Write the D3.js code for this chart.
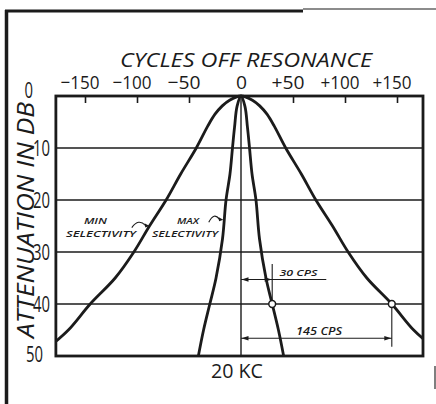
<!DOCTYPE html>
<html>
<head>
<meta charset="utf-8">
<script src="https://cdn.jsdelivr.net/npm/d3@7"></script>
<style>
  html, body { margin: 0; padding: 0; background: #fff; }
  svg { display: block; }
  text { font-family: "Open Sans", "DejaVu Sans", sans-serif; fill: #1b1b1b; }
</style>
</head>
<body>
<svg id="chart" width="436" height="404"></svg>
<script>
// Frequency axis (cycles off resonance) and attenuation axis (dB)
const xTicks = [-150, -100, -50, 0, 50, 100, 150];
const yTicks = [0, 10, 20, 30, 40, 50];
const xExtent = [-178, 175];

// Minimum-selectivity response: attenuation (dB) vs cycles off resonance (one side, symmetric)
const minSelDb     = [0, 0.8, 1.9, 3.5, 5.8, 10, 15, 20, 25, 30, 35, 40, 45, 48];
const minSelCycles = [0, 11, 18, 25, 32, 43, 58, 72, 88, 103, 121, 145, 166, 183];

// Maximum-selectivity response
const maxSelDb     = [0, 2, 6, 10, 15, 20, 27.5, 35, 40, 45, 50];
const maxSelCycles = [0, 3.8, 6.2, 8.2, 10.6, 14.4, 17.8, 24, 30, 36, 41];

// Bandwidths marked at the 40 dB level
const bandLevelDb = 40;
const bandCps = [30, 145];
const bandLabels = ["30 CPS", "145 CPS"];

const svg = d3.select("#chart");
const ink = "#1b1b1b";

const x = d3.scaleLinear().domain([-150, 150]).range([85, 397]);
const y = d3.scaleLinear().domain([0, 50]).range([96, 356]);
const plotL = x(xExtent[0]), plotR = x(xExtent[1]);
const plotT = y(0), plotB = y(50);

// Outer frame of the figure
svg.append("line").attr("x1", 5).attr("y1", 11).attr("x2", 303).attr("y2", 11)
  .attr("stroke", ink).attr("stroke-width", 3);
svg.append("line").attr("x1", 303).attr("y1", 9).attr("x2", 436).attr("y2", 9)
  .attr("stroke", "#666").attr("stroke-width", 1.5);
svg.append("line").attr("x1", 6.5).attr("y1", 10).attr("x2", 6.5).attr("y2", 404)
  .attr("stroke", ink).attr("stroke-width", 3.5);
svg.append("line").attr("x1", 435).attr("y1", 366).attr("x2", 435).attr("y2", 389)
  .attr("stroke", "#555").attr("stroke-width", 1.5);

// Horizontal grid lines
svg.append("g").selectAll("line")
  .data(yTicks.filter(v => v > 0 && v < 50))
  .join("line")
  .attr("x1", plotL).attr("x2", plotR)
  .attr("y1", d => y(d)).attr("y2", d => y(d))
  .attr("stroke", ink).attr("stroke-width", 1.4);

// Resonance (20 KC) centre line
svg.append("line")
  .attr("x1", x(0)).attr("x2", x(0)).attr("y1", plotT).attr("y2", plotB)
  .attr("stroke", ink).attr("stroke-width", 1.4);

// Top axis with inward ticks
const fmt = v => v === 0 ? "0" : (v < 0 ? "\u2212" : "+") + Math.abs(v);
const digitW = s => s.split("").reduce((a, c) => a + (c === "1" ? 6 : 11), 0);
const xAxis = svg.append("g")
  .attr("transform", `translate(0,${plotT})`)
  .call(d3.axisTop(x).tickValues(xTicks).tickSizeInner(-7).tickSizeOuter(0)
    .tickPadding(7).tickFormat(fmt));
xAxis.select(".domain").remove();
xAxis.selectAll(".tick line").attr("stroke", ink).attr("stroke-width", 1.6)
  .attr("display", d => d === 0 ? "none" : null);
xAxis.selectAll(".tick text")
  .attr("fill", ink).attr("font-size", 18.5).attr("font-weight", 400)
  .attr("font-family", '"Open Sans", "DejaVu Sans", sans-serif')
  .each(function (d) {
    const digits = String(Math.abs(d));
    const w = digitW(digits);
    const t = d3.select(this);
    if (d === 0) {
      t.attr("text-anchor", "middle").attr("textLength", w).attr("lengthAdjust", "spacingAndGlyphs");
    } else {
      t.attr("text-anchor", "end").attr("x", w / 2)
        .attr("textLength", w + 11).attr("lengthAdjust", "spacingAndGlyphs");
    }
  });

// Left axis labels
svg.append("g").selectAll("text")
  .data(yTicks)
  .join("text")
  .attr("text-anchor", "end")
  .attr("font-size", 22).attr("font-weight", 400)
  .attr("x", d => d === 0 ? 33 : d === 50 ? 43 : 50)
  .attr("y", d => y(d) + (d === 0 ? 2 : d === 50 ? 6 : 8))
  .attr("textLength", d => String(d).length * 8.5)
  .attr("lengthAdjust", "spacingAndGlyphs")
  .text(d => d);

// Axis titles
svg.append("text")
  .attr("x", 120).attr("y", 67)
  .attr("font-size", 20).attr("font-style", "italic").attr("font-weight", 400)
  .attr("textLength", 252).attr("lengthAdjust", "spacingAndGlyphs")
  .text("CYCLES OFF RESONANCE");
svg.append("text")
  .attr("transform", "translate(34,220) rotate(-90)")
  .attr("text-anchor", "middle")
  .attr("font-size", 23).attr("font-style", "italic").attr("font-weight", 400)
  .attr("textLength", 236).attr("lengthAdjust", "spacingAndGlyphs")
  .text("ATTENUATION IN DB");
svg.append("text")
  .attr("x", x(0) - 4).attr("y", 378)
  .attr("text-anchor", "middle")
  .attr("font-size", 20).attr("font-weight", 400)
  .attr("textLength", 52).attr("lengthAdjust", "spacingAndGlyphs")
  .text("20 KC");

// Response curves, mirrored about resonance
svg.append("defs").append("clipPath").attr("id", "plotClip")
  .append("rect").attr("x", plotL).attr("y", plotT - 2)
  .attr("width", plotR - plotL).attr("height", plotB - plotT + 2);

function symmetric(cyc, db) {
  const pts = cyc.map((c, i) => [c, db[i]]);
  const leftSide = pts.slice(1).reverse().map(([c, d]) => [-c, d]);
  return leftSide.concat(pts);
}
const line = d3.line().x(d => x(d[0])).y(d => y(d[1])).curve(d3.curveCatmullRom.alpha(0.5));

const curves = svg.append("g").attr("clip-path", "url(#plotClip)");
curves.append("path").datum(symmetric(minSelCycles, minSelDb))
  .attr("d", line).attr("fill", "none").attr("stroke", ink).attr("stroke-width", 2.8)
  .attr("stroke-linejoin", "round");
curves.append("path").datum(symmetric(maxSelCycles, maxSelDb))
  .attr("d", line).attr("fill", "none").attr("stroke", ink).attr("stroke-width", 2.8)
  .attr("stroke-linejoin", "round");

// Plot border
svg.append("rect")
  .attr("x", plotL).attr("y", plotT).attr("width", plotR - plotL).attr("height", plotB - plotT)
  .attr("fill", "none").attr("stroke", ink).attr("stroke-width", 2.8);

// Bandwidth dimension lines at 40 dB
const arrow = (g, xa, ya, dir) => {
  g.append("path")
    .attr("d", `M${xa},${ya} l${-dir * 7},-2.2 l0,4.4 Z`)
    .attr("fill", ink).attr("stroke", "none");
};
const dims = svg.append("g").attr("stroke", ink).attr("stroke-width", 1.1);
const dimRows = [y(35.3), y(46.6)];
bandCps.forEach((c, i) => {
  const xe = x(c), yr = dimRows[i];
  if (i === 0) {
    dims.append("line").attr("x1", xe).attr("x2", xe).attr("y1", y(bandLevelDb)).attr("y2", y(32.3));
    dims.append("line").attr("x1", x(0)).attr("x2", x(82)).attr("y1", yr).attr("y2", yr);
  } else {
    dims.append("line").attr("x1", xe).attr("x2", xe).attr("y1", y(bandLevelDb)).attr("y2", y(48.2));
    dims.append("line").attr("x1", x(0)).attr("x2", xe).attr("y1", yr).attr("y2", yr);
  }
  arrow(dims, x(0) + 0.5, yr, -1);
  arrow(dims, xe - 0.5, yr, 1);
});
svg.append("text").attr("x", x(37)).attr("y", dimRows[0] - 4)
  .attr("font-size", 9.5).attr("font-style", "italic").attr("font-weight", 600)
  .attr("textLength", 38).attr("lengthAdjust", "spacingAndGlyphs").text(bandLabels[0]);
svg.append("text").attr("x", x(53)).attr("y", dimRows[1] - 3.5)
  .attr("font-size", 10).attr("font-style", "italic").attr("font-weight", 600)
  .attr("textLength", 46).attr("lengthAdjust", "spacingAndGlyphs").text(bandLabels[1]);

// Open circles where the curves cross 40 dB
svg.append("g").selectAll("circle")
  .data(bandCps)
  .join("circle")
  .attr("cx", d => x(d)).attr("cy", y(bandLevelDb)).attr("r", 3.4)
  .attr("fill", "#fff").attr("stroke", ink).attr("stroke-width", 1.5);

// Curve labels with pointer arrows
const lab = svg.append("g").attr("font-size", 9.5).attr("font-style", "italic").attr("font-weight", 600);
lab.append("text").attr("x", x(-140)).attr("y", 224).attr("text-anchor", "middle")
  .attr("textLength", 23).attr("lengthAdjust", "spacingAndGlyphs").text("MIN");
lab.append("text").attr("x", 66).attr("y", 237)
  .attr("textLength", 70).attr("lengthAdjust", "spacingAndGlyphs").text("SELECTIVITY");
lab.append("text").attr("x", x(-51)).attr("y", 224).attr("text-anchor", "middle")
  .attr("textLength", 22).attr("lengthAdjust", "spacingAndGlyphs").text("MAX");
lab.append("text").attr("x", 152).attr("y", 237)
  .attr("textLength", 66).attr("lengthAdjust", "spacingAndGlyphs").text("SELECTIVITY");

const pointers = [
  { from: [-105, 25.3], tip: [-88, 25] },
  { from: [-31, 24.3], tip: [-17, 23.8] }
];
const pg = svg.append("g");
pointers.forEach(p => {
  const x0 = x(p.from[0]), y0 = y(p.from[1]);
  const x1 = x(p.tip[0]), y1 = y(p.tip[1]);
  pg.append("path")
    .attr("d", `M${x0},${y0} Q${(x0 + x1) / 2 - 2},${Math.min(y0, y1) - 8} ${x1 - 4},${y1 - 0.5}`)
    .attr("fill", "none").attr("stroke", ink).attr("stroke-width", 1.1);
  pg.append("path")
    .attr("d", `M${x1},${y1} l-5,-2.8 l0.8,4.4 Z`).attr("fill", ink);
});
</script>
</body>
</html>
